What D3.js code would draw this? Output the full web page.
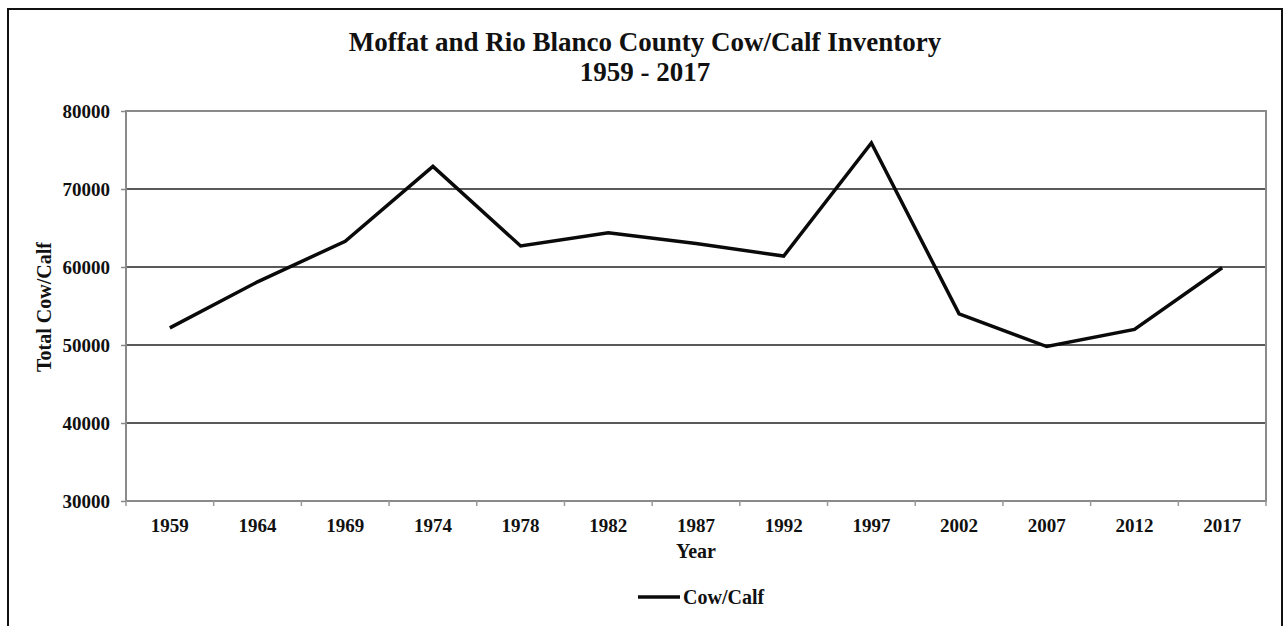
<!DOCTYPE html>
<html>
<head>
<meta charset="utf-8">
<script src="https://cdn.jsdelivr.net/npm/d3@7"></script>
<style>
  html, body { margin: 0; padding: 0; background: #fff; }
  svg { display: block; }
  text { font-family: "Liberation Serif", "Times New Roman", serif; font-weight: bold; fill: #111; }
</style>
</head>
<body>
<svg id="chart" width="1285" height="626"></svg>
<script>
// Census years and cow/calf head counts
const years = ["1959", "1964", "1969", "1974", "1978", "1982", "1987", "1992", "1997", "2002", "2007", "2012", "2017"];
const cowCalf = [52200, 58100, 63300, 72900, 62700, 64400, 63000, 61400, 75900, 54000, 49800, 52000, 59900];
const yTicks = [30000, 40000, 50000, 60000, 70000, 80000];

const svg = d3.select("#chart");
const frame = { left: 8, top: 9, right: 1282 };
const plot = { left: 126, top: 111, right: 1266, bottom: 501 };
const frameMid = (frame.left + frame.right) / 2;

// outer chart frame (runs past the bottom edge)
svg.append("rect")
  .attr("x", frame.left).attr("y", frame.top)
  .attr("width", frame.right - frame.left).attr("height", 640)
  .attr("fill", "none").attr("stroke", "#111").attr("stroke-width", 2);

const x = d3.scaleBand().domain(years).range([plot.left, plot.right]).paddingInner(0).paddingOuter(0);
const y = d3.scaleLinear().domain([30000, 80000]).range([plot.bottom, plot.top]);

// horizontal gridlines
svg.append("g")
  .selectAll("line")
  .data(yTicks.filter(v => v > 30000 && v < 80000))
  .join("line")
  .attr("x1", plot.left).attr("x2", plot.right)
  .attr("y1", d => y(d)).attr("y2", d => y(d))
  .attr("stroke", "#222").attr("stroke-width", 1.6);

// plot frame
svg.append("rect")
  .attr("x", plot.left).attr("y", plot.top)
  .attr("width", plot.right - plot.left).attr("height", plot.bottom - plot.top)
  .attr("fill", "none").attr("stroke", "#8a8a8a").attr("stroke-width", 2);

// y axis
const yAxis = d3.axisLeft(y).tickValues(yTicks).tickSize(5).tickPadding(11).tickFormat(d3.format("d"));
const gy = svg.append("g").attr("transform", `translate(${plot.left},0)`).call(yAxis);
gy.select(".domain").remove();
gy.selectAll(".tick line").attr("stroke", "#888").attr("stroke-width", 1.5);
gy.selectAll(".tick text").style("font-size", "19px").style("font-family", "Liberation Serif").style("font-weight", "bold").attr("fill", "#111");

// x axis: ticks sit on category boundaries
const gx = svg.append("g").attr("transform", `translate(0,${plot.bottom})`);
gx.selectAll("line.bound")
  .data(years.map(d => x(d)).concat([plot.right]))
  .join("line")
  .attr("class", "bound")
  .attr("x1", d => d).attr("x2", d => d)
  .attr("y1", 0).attr("y2", 5)
  .attr("stroke", "#999").attr("stroke-width", 1.5);
gx.selectAll("text.cat")
  .data(years)
  .join("text")
  .attr("class", "cat")
  .attr("x", d => x(d) + x.bandwidth() / 2)
  .attr("y", 31)
  .attr("text-anchor", "middle")
  .style("font-size", "19px")
  .text(d => d);

// axis titles
svg.append("text")
  .attr("transform", `translate(51,${307}) rotate(-90)`)
  .attr("text-anchor", "middle")
  .style("font-size", "20px")
  .text("Total Cow/Calf");
svg.append("text")
  .attr("x", (plot.left + plot.right) / 2).attr("y", 558)
  .attr("text-anchor", "middle")
  .style("font-size", "20px")
  .text("Year");

// title
svg.append("text")
  .attr("x", frameMid).attr("y", 51)
  .attr("text-anchor", "middle")
  .style("font-size", "27px")
  .text("Moffat and Rio Blanco County Cow/Calf Inventory");
svg.append("text")
  .attr("x", frameMid).attr("y", 81)
  .attr("text-anchor", "middle")
  .style("font-size", "27px")
  .text("1959 - 2017");

// series line
const line = d3.line()
  .x((d, i) => x(years[i]) + x.bandwidth() / 2)
  .y(d => y(d));
svg.append("path")
  .datum(cowCalf)
  .attr("d", line)
  .attr("fill", "none")
  .attr("stroke", "#0a0a0a")
  .attr("stroke-width", 3.5)
  .attr("stroke-linejoin", "miter");

// legend
const lg = svg.append("g").attr("transform", "translate(638,597)");
lg.append("line").attr("x1", 0).attr("x2", 42).attr("y1", 0).attr("y2", 0)
  .attr("stroke", "#0a0a0a").attr("stroke-width", 3.5);
lg.append("text").attr("x", 45).attr("y", 6.5)
  .style("font-size", "20px")
  .text("Cow/Calf");
</script>
</body>
</html>
